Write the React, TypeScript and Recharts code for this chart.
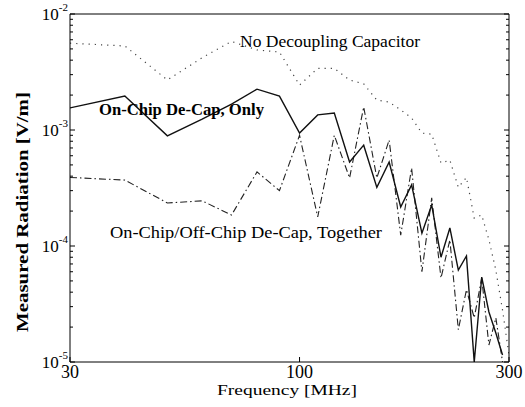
import { LineChart, Line, XAxis, YAxis } from "recharts";

const freqs = [30, 40, 50, 60, 70, 80, 90, 100, 110, 120, 130, 140, 150, 160, 170, 180, 190, 200, 210, 220, 230, 240, 250, 260, 270, 280, 290, 300];

const noDecap = [5.6e-3, 5.3e-3, 2.7e-3, 4.2e-3, 5.8e-3, 4.9e-3, 4.7e-3, 2.44e-3, 3.4e-3, 3.4e-3, 2.7e-3, 2.5e-3, 1.81e-3, 1.74e-3, 1.49e-3, 1.27e-3, 9.4e-4, 9.2e-4, 5.2e-4, 5.5e-4, 3.2e-4, 3.9e-4, 1.74e-4, 1.85e-4, 1.13e-4, 6.2e-5, 2.8e-5, 1.15e-5];
const onChipOnly = [1.55e-3, 1.96e-3, 8.9e-4, 1.24e-3, 1.67e-3, 2.25e-3, 1.96e-3, 9.4e-4, 1.35e-3, 1.4e-3, 5.3e-4, 7.4e-4, 3.2e-4, 5.3e-4, 2.17e-4, 3.36e-4, 1.29e-4, 2.26e-4, 8.0e-5, 1.43e-4, 6.2e-5, 8.2e-5, 1.0e-5, 5.4e-5, 2.7e-5, 1.78e-5, 1.15e-5, null];
const together = [3.9e-4, 3.7e-4, 2.35e-4, 2.45e-4, 1.85e-4, 4.35e-4, 3.0e-4, 9.0e-4, 1.78e-4, 9.0e-4, 3.86e-4, 1.58e-3, 3.86e-4, 8.2e-4, 1.24e-4, 4.7e-4, 6.0e-5, 2.6e-4, 5.3e-5, 1.13e-4, 1.9e-5, 4.2e-5, 2.4e-5, 5.3e-5, 1.4e-5, 2.4e-5, 1.0e-5, null];

const xTicks = [30, 100, 300];
const yExponents = [-5, -4, -3, -2];
const yMinorSteps = [2, 3, 4, 5, 6, 7, 8, 9];

const data = freqs.map((f, i) => ({ f, noDecap: noDecap[i], onChipOnly: onChipOnly[i], together: together[i] }));

const yMajor = yExponents.map((e) => Math.pow(10, e));
const yTicks: number[] = [];
yExponents.forEach((e, i) => {
  yTicks.push(yMajor[i]);
  if (e < -2) yMinorSteps.forEach((k) => yTicks.push(k * Math.pow(10, e)));
});

const FONT = "'Liberation Serif', 'Times New Roman', serif";

const LeftTick = (props: any) => {
  const { x, y, payload } = props;
  const i = yMajor.indexOf(payload.value);
  const major = i >= 0;
  return (
    <g>
      <line x1={x} x2={x + (major ? 5 : 3)} y1={y} y2={y} stroke="#000" />
      {major && (
        <text x={x - 2} y={y + 6} textAnchor="end" fontFamily={FONT} fontSize={17} fill="#000">
          10
          <tspan fontSize={11} dy={-9}>{yExponents[i]}</tspan>
        </text>
      )}
    </g>
  );
};

const RightTick = (props: any) => {
  const { x, y, payload } = props;
  const major = yMajor.includes(payload.value);
  return <line x1={x} x2={x - (major ? 5 : 3)} y1={y} y2={y} stroke="#000" />;
};

const BottomTick = (props: any) => {
  const { x, y, payload } = props;
  return (
    <g>
      <line x1={x} x2={x} y1={y} y2={y - 5} stroke="#000" />
      <text x={x} y={y + 16} textAnchor="middle" fontFamily={FONT} fontSize={18} fill="#000">
        {payload.value}
      </text>
    </g>
  );
};

const TopTick = (props: any) => {
  const { x, y } = props;
  return <line x1={x} x2={x} y1={y} y2={y + 5} stroke="#000" />;
};

export default function App() {
  return (
    <div style={{ position: "absolute", top: 0, left: 0, width: 525, height: 407 }}>
      <LineChart width={525} height={407} data={data} margin={{ top: 13, right: 15, left: 0, bottom: 0 }}>
        <XAxis
          xAxisId="b"
          dataKey="f"
          type="number"
          scale="log"
          domain={[30, 300]}
          allowDataOverflow
          ticks={xTicks}
          interval={0}
          tickSize={0}
          tickMargin={0}
          tickLine={false}
          tick={<BottomTick />}
          height={45}
          axisLine={{ stroke: "#000" }}
        />
        <XAxis
          xAxisId="t"
          orientation="top"
          type="number"
          scale="log"
          domain={[30, 300]}
          allowDataOverflow
          ticks={xTicks}
          interval={0}
          tickSize={0}
          tickMargin={0}
          tickLine={false}
          tick={<TopTick />}
          height={1}
          axisLine={{ stroke: "#000" }}
        />
        <YAxis
          yAxisId="l"
          type="number"
          scale="log"
          domain={[1e-5, 1e-2]}
          allowDataOverflow
          ticks={yTicks}
          interval={0}
          tickSize={0}
          tickMargin={0}
          tickLine={false}
          tick={<LeftTick />}
          width={70}
          axisLine={{ stroke: "#000" }}
        />
        <YAxis
          yAxisId="r"
          orientation="right"
          type="number"
          scale="log"
          domain={[1e-5, 1e-2]}
          allowDataOverflow
          ticks={yTicks}
          interval={0}
          tickSize={0}
          tickMargin={0}
          tickLine={false}
          tick={<RightTick />}
          width={1}
          axisLine={{ stroke: "#000" }}
        />
        <Line xAxisId="b" yAxisId="l" dataKey="noDecap" stroke="#444" strokeWidth={1.2} strokeDasharray="1.2 5" dot={false} isAnimationActive={false} />
        <Line xAxisId="b" yAxisId="l" dataKey="together" stroke="#222" strokeWidth={1.1} strokeDasharray="7 3 1.5 3" dot={false} isAnimationActive={false} />
        <Line xAxisId="b" yAxisId="l" dataKey="onChipOnly" stroke="#111" strokeWidth={1.4} dot={false} isAnimationActive={false} />
      </LineChart>
      <svg width={525} height={407} style={{ position: "absolute", left: 0, top: 0, pointerEvents: "none" }} fontFamily={FONT} fill="#000">
        <text x={240} y={47} fontSize={16} textLength={180} lengthAdjust="spacingAndGlyphs">No Decoupling Capacitor</text>
        <text x={99} y={115} fontSize={16} fontWeight="bold" textLength={165} lengthAdjust="spacingAndGlyphs">On-Chip De-Cap, Only</text>
        <text x={110} y={238} fontSize={16} textLength={272} lengthAdjust="spacingAndGlyphs">On-Chip/Off-Chip De-Cap, Together</text>
        <text x={217} y={395} fontSize={15} textLength={140} lengthAdjust="spacingAndGlyphs">Frequency [MHz]</text>
        <text transform="translate(28, 212) rotate(-90)" textAnchor="middle" fontSize={17} fontWeight="bold" textLength={240} lengthAdjust="spacingAndGlyphs">Measured Radiation  [V/m]</text>
      </svg>
    </div>
  );
}
